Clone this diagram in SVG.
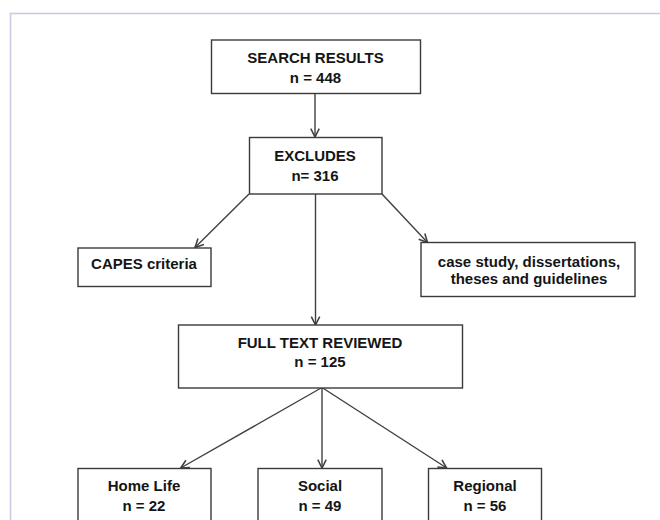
<svg xmlns="http://www.w3.org/2000/svg" width="660" height="520" viewBox="0 0 660 520">
<style>
.box{fill:#fff;stroke:#3a3a3a;stroke-width:1.4}
.t{font-family:"Liberation Sans",Arial,sans-serif;font-weight:bold;font-size:15px;fill:#151515;text-anchor:middle}
.c{stroke:#404040;stroke-width:1.4;fill:none;marker-end:url(#ah)}
</style>
<defs>
<marker id="ah" markerUnits="userSpaceOnUse" markerWidth="12" markerHeight="12" viewBox="-8 -5 10 10" refX="0" refY="0" orient="auto">
<path d="M-7,-3.5 L0,0 L-7,3.5" fill="none" stroke="#404040" stroke-width="1.3"/>
</marker>
</defs>
<rect x="0" y="0" width="660" height="520" fill="#fff"/>
<rect x="10.5" y="13.5" width="700" height="600" fill="none" stroke="#cacae2" stroke-width="1.6"/>
<g id="connectors">
<line class="c" x1="315" y1="93.5" x2="315" y2="137"/>
<line class="c" x1="249" y1="194" x2="195" y2="247.5"/>
<line class="c" x1="382" y1="194" x2="427.5" y2="242.5"/>
<line class="c" x1="315.5" y1="194" x2="315.5" y2="325"/>
<line class="c" x1="322" y1="387.5" x2="180.7" y2="468"/>
<line class="c" x1="322" y1="387.5" x2="322" y2="468"/>
<line class="c" x1="322" y1="387.5" x2="446.7" y2="468"/>
</g>
<g id="search">
<rect class="box" x="211.5" y="40" width="209" height="53.5"/>
<text class="t" x="315.5" y="62.5">SEARCH RESULTS</text>
<text class="t" x="315.5" y="82.5">n = 448</text>
</g>
<g id="excludes">
<rect class="box" x="249.5" y="137.5" width="132.5" height="56.5"/>
<text class="t" x="315" y="160.5">EXCLUDES</text>
<text class="t" x="315" y="181">n= 316</text>
</g>
<g id="capes">
<rect class="box" x="78" y="248" width="133" height="38.5"/>
<text class="t" x="144" y="268.5">CAPES criteria</text>
</g>
<g id="casestudy">
<rect class="box" x="421" y="242.5" width="214" height="54"/>
<text class="t" x="529" y="266.5">case study, dissertations,</text>
<text class="t" x="529" y="283.5">theses and guidelines</text>
</g>
<g id="fulltext">
<rect class="box" x="178.5" y="325" width="284" height="63"/>
<text class="t" x="320" y="347.5">FULL TEXT REVIEWED</text>
<text class="t" x="320" y="367">n = 125</text>
</g>
<g id="homelife">
<rect class="box" x="78" y="468.5" width="133" height="70"/>
<text class="t" x="144" y="491">Home Life</text>
<text class="t" x="144" y="510.5">n = 22</text>
</g>
<g id="social">
<rect class="box" x="258" y="468.5" width="124" height="70"/>
<text class="t" x="320" y="491">Social</text>
<text class="t" x="320" y="510.5">n = 49</text>
</g>
<g id="regional">
<rect class="box" x="428.5" y="468.5" width="113" height="70"/>
<text class="t" x="485" y="491">Regional</text>
<text class="t" x="485" y="510.5">n = 56</text>
</g>
</svg>
